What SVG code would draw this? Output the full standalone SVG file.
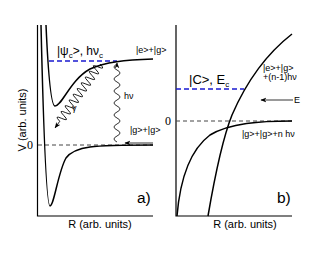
<svg xmlns="http://www.w3.org/2000/svg" width="330" height="255" viewBox="0 0 330 255">
<style>
.ax{fill:none;stroke:#000;stroke-width:1.2}
.cv{fill:none;stroke:#000;stroke-width:1.5}
.dz{fill:none;stroke:#444;stroke-width:1;stroke-dasharray:4,3}
.db{fill:none;stroke:#1a1ad0;stroke-width:1.3;stroke-dasharray:5,3}
.wv{fill:none;stroke:#000;stroke-width:0.8}
.ar{fill:none;stroke:#000;stroke-width:0.8}
text{font-family:"Liberation Sans",Arial,sans-serif;fill:#000}
.s{font-size:9px}
.ss{font-size:8px}
.m{font-size:11px}
.l{font-size:12px}
.big{font-size:15.5px}
.z{font-family:"Liberation Serif","Times New Roman",serif;font-size:12px}
</style>
<defs>
<marker id="ah" viewBox="0 0 10 10" refX="9" refY="5" markerWidth="6" markerHeight="6" orient="auto" markerUnits="userSpaceOnUse">
<path d="M0,1 L10,5 L0,9 L3,5 Z" fill="#000"/>
</marker>
</defs>
<g id="panel-a">
<g id="axes-a">
<path class="ax" d="M37.5,25 V216 H153"/>
<text class="z" x="27" y="149">0</text>
<text class="m" transform="translate(26,120) rotate(-90)" text-anchor="middle">V (arb. units)</text>
<text class="m" x="100" y="228" text-anchor="middle">R (arb. units)</text>
<text class="big" x="137" y="203">a)</text>
</g>
<path class="dz" d="M38,145 H153"/>
<path class="db" d="M49,61 H117"/>
<g id="ground-curve-a"><path class="cv" d="M41,25 C43,110 46,206 50,206 C54,206 58,172 66,158 C75,146 92,145 153,145"/></g>
<g id="excited-curve-a"><path class="cv" d="M46,25 C48,70 51,106 55,106 C62,106 70,80 90,69 C105,62 125,60 153,59"/></g>
<text class="l" x="57" y="55">|ψ<tspan class="ss" dy="3">c</tspan><tspan dy="-3">&gt;, hν</tspan><tspan class="ss" dy="3">c</tspan></text>
<text class="s" x="136" y="53">|e&gt;+|g&gt;</text>
<text class="s" x="130" y="133">|g&gt;+|g&gt;</text>
<text class="s" x="124" y="99">hν</text>
<text class="s" x="72" y="111">γ</text>
</g>
<g id="connectors">
<path class="wv" marker-end="url(#ah)" d="M117,142 q-6,-3 0,-6 t0,-6 t0,-6 t0,-6 t0,-6 t0,-6 t0,-6 t0,-6 t0,-6 t0,-6 t0,-6 t0,-6 t0,-6 L117,63"/>
<g transform="translate(100,64) rotate(125.1)">
<path class="wv" marker-end="url(#ah)" d="M0,0 q1.75,-9 3.5,0 t3.5,0 t3.5,0 t3.5,0 t3.5,0 t3.5,0 t3.5,0 t3.5,0 t3.5,0 t3.5,0 t3.5,0 t3.5,0 t3.5,0 t3.5,0 t3.5,0 t3.5,0 t3.5,0 t3.5,0 t3.5,0 t3.5,0 L78,0"/>
</g>
<path class="ar" marker-end="url(#ah)" d="M153,143 H125"/>
<path class="ar" marker-end="url(#ah)" d="M293,100 H261"/>
</g>
<g id="panel-b">
<g id="axes-b">
<path class="ax" d="M176,25 V216 H292"/>
<text class="z" x="165" y="125">0</text>
<text class="m" x="245" y="228" text-anchor="middle">R (arb. units)</text>
<text class="big" x="277" y="203">b)</text>
</g>
<path class="dz" d="M176,121 H292"/>
<path class="db" d="M176,89 H244"/>
<g id="repulsive-curve-b"><path class="cv" d="M208,216 C215,175 222,140 232,115 C245,85 265,55 292,34"/></g>
<g id="attractive-curve-b"><path class="cv" d="M177,216 C180,180 190,150 210,135 C230,123 260,121 292,121"/></g>
<text class="l" x="189" y="84" style="font-size:13px">|C&gt;, E<tspan class="ss" dy="3">c</tspan></text>
<text class="s" x="263" y="71">|e&gt;+|g&gt;</text>
<text class="s" x="263" y="80">+(n-1)hν</text>
<text class="s" x="294" y="103">E</text>
<text class="s" x="242" y="137">|g&gt;+|g&gt;+n hν</text>
</g>
</svg>
